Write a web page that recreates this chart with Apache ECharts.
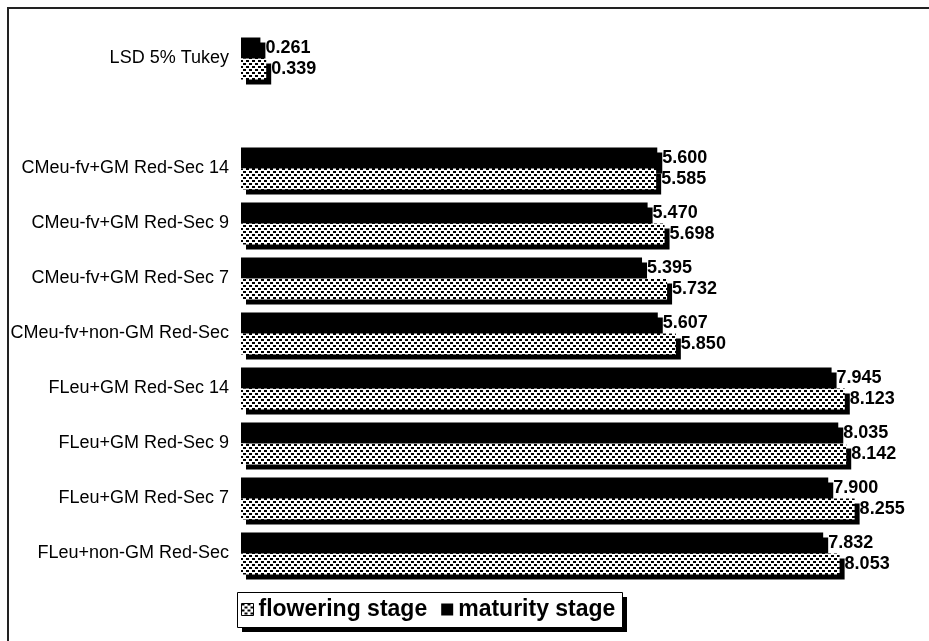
<!DOCTYPE html>
<html>
<head>
<meta charset="utf-8">
<script src="https://cdn.jsdelivr.net/npm/echarts@6/dist/echarts.min.js"></script>
<style>
  html, body { margin: 0; padding: 0; background: #fff; }
  #chart { width: 929px; height: 641px; }
</style>
</head>
<body>
<div id="chart"></div>
<script>
// Treatments, listed top to bottom; the empty entry is a spacer row.
const categories = [
  'LSD 5% Tukey',
  '',
  'CMeu-fv+GM Red-Sec 14',
  'CMeu-fv+GM Red-Sec 9',
  'CMeu-fv+GM Red-Sec 7',
  'CMeu-fv+non-GM Red-Sec',
  'FLeu+GM Red-Sec 14',
  'FLeu+GM Red-Sec 9',
  'FLeu+GM Red-Sec 7',
  'FLeu+non-GM Red-Sec'
];
const maturityStage = [0.261, null, 5.600, 5.470, 5.395, 5.607, 7.945, 8.035, 7.900, 7.832];
const floweringStage = [0.339, null, 5.585, 5.698, 5.732, 5.850, 8.123, 8.142, 8.255, 8.053];
const seriesNames = ['flowering stage', 'maturity stage'];

// Dotted tile used as the fill of the flowering-stage bars.
function dotPattern() {
  const c = document.createElement('canvas');
  c.width = 6; c.height = 6;
  const g = c.getContext('2d');
  g.fillStyle = '#fff';
  g.fillRect(0, 0, 6, 6);
  g.fillStyle = '#000';
  g.fillRect(0, 0, 3, 2);
  g.fillRect(3, 3, 3, 2);
  return c;
}

const FONT = '"Liberation Sans", Arial, sans-serif';
const chart = echarts.init(document.getElementById('chart'));
const pattern = dotPattern();

const valueLabel = {
  show: true,
  position: 'right',
  distance: 5,
  color: '#000',
  fontFamily: FONT,
  fontWeight: 'bold',
  fontSize: 18,
  formatter: p => p.value == null ? '' : Number(p.value).toFixed(3)
};
const shadow = { shadowColor: '#000', shadowBlur: 0, shadowOffsetX: 5, shadowOffsetY: 5 };

chart.setOption({
  animation: false,
  backgroundColor: '#fff',
  graphic: [
    {
      type: 'rect', silent: true, z: -1,
      shape: { x: 8, y: 8, width: 1000, height: 1000 },
      style: { fill: 'none', stroke: '#222', lineWidth: 2 }
    },
    // legend frame with its drop shadow
    {
      type: 'rect', silent: true, z: 1,
      shape: { x: 242, y: 597, width: 385, height: 35 },
      style: { fill: '#000' }
    },
    {
      type: 'rect', silent: true, z: 2,
      shape: { x: 237.5, y: 592.5, width: 385, height: 35 },
      style: { fill: '#fff', stroke: '#000', lineWidth: 1 }
    }
  ],
  grid: { left: 241, top: 31, bottom: 60, right: 19, containLabel: false },
  xAxis: {
    type: 'value', min: 0, max: 9,
    axisLine: { show: false }, axisTick: { show: false },
    axisLabel: { show: false }, splitLine: { show: false }
  },
  yAxis: {
    type: 'category', inverse: true, data: categories,
    axisLine: { show: false }, axisTick: { show: false },
    axisLabel: { color: '#000', fontFamily: FONT, fontSize: 18, margin: 12 }
  },
  legend: {
    z: 5,
    data: [
      { name: seriesNames[0], icon: 'rect', itemStyle: { color: { image: pattern, repeat: 'repeat' }, borderColor: '#000', borderWidth: 1, shadowColor: 'transparent' } },
      { name: seriesNames[1], icon: 'rect', itemStyle: { color: '#000', shadowColor: 'transparent' } }
    ],
    left: 236, top: 594,
    orient: 'horizontal',
    padding: [4, 5, 4, 5],
    itemGap: 14,
    itemWidth: 12, itemHeight: 12,
    textStyle: { color: '#000', fontFamily: FONT, fontWeight: 'bold', fontSize: 23 }
  },
  series: [
    {
      name: seriesNames[1], type: 'bar', data: maturityStage,
      barWidth: 21, barGap: '0%',
      itemStyle: Object.assign({ color: '#000' }, shadow),
      label: valueLabel
    },
    {
      name: seriesNames[0], type: 'bar', data: floweringStage,
      barWidth: 21, barGap: '0%',
      itemStyle: Object.assign({ color: { image: pattern, repeat: 'repeat' } }, shadow),
      label: valueLabel
    }
  ]
});
</script>
</body>
</html>
